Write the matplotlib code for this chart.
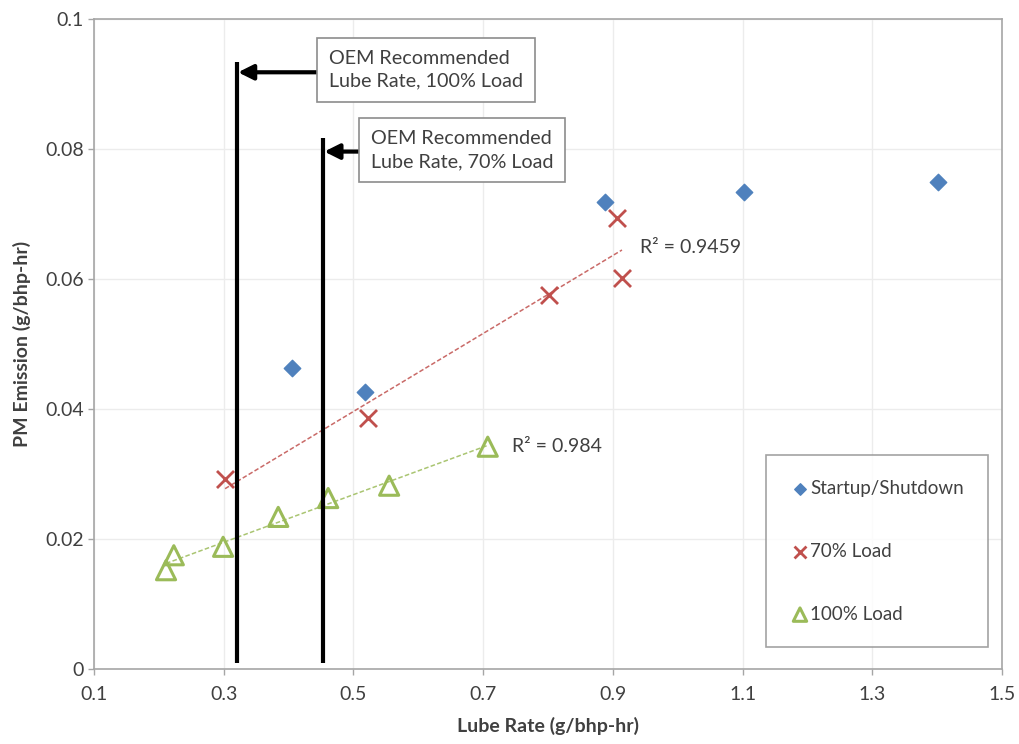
import numpy as np
import matplotlib.pyplot as plt

plt.rcParams['font.family'] = ['Lato', 'DejaVu Sans']

# PM emission vs lube rate
startup_x = [0.405, 0.518, 0.888, 1.102, 1.401]
startup_y = [0.0463, 0.0426, 0.0719, 0.0734, 0.0749]

load70_x = [0.302, 0.522, 0.801, 0.906, 0.914]
load70_y = [0.0292, 0.0386, 0.0575, 0.0694, 0.0601]

load100_x = [0.211, 0.223, 0.299, 0.384, 0.461, 0.555, 0.707]
load100_y = [0.0152, 0.0175, 0.0188, 0.0234, 0.0263, 0.0282, 0.0342]

r2_70 = 'R² = 0.9459'
r2_100 = 'R² = 0.984'

# OEM recommended lube rates (vertical markers)
oem100_x, oem100_top = 0.32, 0.0934
oem70_x, oem70_top = 0.453, 0.0817

xticks = [0.1, 0.3, 0.5, 0.7, 0.9, 1.1, 1.3, 1.5]
yticks = [0, 0.02, 0.04, 0.06, 0.08, 0.1]
yticklabels = ['0', '0.02', '0.04', '0.06', '0.08', '0.1']

blue = '#4f81bd'
red = '#c0504d'
green = '#9bbb59'
grey_txt = '#404040'

fig = plt.figure(figsize=(10.2, 7.44), dpi=100)
ax = fig.add_axes([0.0922, 0.1008, 0.8902, 0.8737])

ax.set_xlim(0.1, 1.5)
ax.set_ylim(0, 0.1)
ax.set_xticks(xticks)
ax.set_xticklabels([str(v) for v in xticks])
ax.set_yticks(yticks)
ax.set_yticklabels(yticklabels)
ax.grid(True, color='#ececec', lw=1.0)
ax.set_axisbelow(True)
for s in ax.spines.values():
    s.set_color('#a6a6a6')
    s.set_linewidth(1.2)
ax.tick_params(colors='#a6a6a6', labelcolor=grey_txt, labelsize=14, length=4, width=1)
ax.tick_params(axis='x', pad=8)

# trendlines
for xs, ys, c in [(load70_x, load70_y, red), (load100_x, load100_y, green)]:
    k, b = np.polyfit(xs, ys, 1)
    xx = np.array([min(xs), max(xs)])
    ax.plot(xx, k * xx + b, ls=(0, (3, 1.5)), color=c, lw=1.1, alpha=0.85, zorder=2)

ax.scatter(startup_x, startup_y, marker='D', s=70, color=blue, label='Startup/Shutdown', zorder=3)
ax.scatter(load70_x, load70_y, marker='x', s=150, color=red, lw=2, label='70% Load', zorder=3)
ax.scatter(load100_x, load100_y, marker='^', s=190, facecolor='none', edgecolor=green, lw=2.2,
           label='100% Load', zorder=3)

ax.text(0.942, 0.0649, r2_70, fontsize=14, color=grey_txt, va='center')
ax.text(0.744, 0.0343, r2_100, fontsize=14, color=grey_txt, va='center')

# OEM markers
ax.plot([oem100_x, oem100_x], [0.001, oem100_top], color='black', lw=3, solid_capstyle='butt', zorder=4)
ax.plot([oem70_x, oem70_x], [0.001, oem70_top], color='black', lw=3, solid_capstyle='butt', zorder=4)

box = dict(boxstyle='square,pad=0.6', fc='white', ec='#8c8c8c', lw=1.2)
ax.text(0.462, 0.0922, 'OEM Recommended\nLube Rate, 100% Load', fontsize=14.2, color=grey_txt,
        ha='left', va='center', linespacing=1.45, bbox=box, zorder=5)
ax.text(0.527, 0.0798, 'OEM Recommended\nLube Rate, 70% Load', fontsize=14.2, color=grey_txt,
        ha='left', va='center', linespacing=1.45, bbox=box, zorder=5)

arrow = dict(arrowstyle='-|>,head_length=0.9,head_width=0.45', color='black', lw=3, shrinkA=0, shrinkB=0)
ax.annotate('', xy=(oem100_x + 0.002, 0.0918), xytext=(0.444, 0.0918), arrowprops=arrow, zorder=4)
ax.annotate('', xy=(oem70_x + 0.002, 0.0796), xytext=(0.509, 0.0796), arrowprops=arrow, zorder=4)

leg = ax.legend(loc='lower right', bbox_to_anchor=(0.985, 0.034), borderaxespad=0, fontsize=13.5,
                frameon=True, fancybox=False, edgecolor='#8c8c8c', labelspacing=2.45, borderpad=1.3,
                handletextpad=0.05, handlelength=1.0, markerscale=0.7, labelcolor=grey_txt)
leg.get_frame().set_linewidth(1.2)

ax.set_xlabel('Lube Rate (g/bhp-hr)', fontsize=14, fontweight='bold', color=grey_txt, labelpad=10)
ax.set_ylabel('PM Emission (g/bhp-hr)', fontsize=14, fontweight='bold', color=grey_txt, labelpad=10)

fig.savefig('out.png', dpi=100)
